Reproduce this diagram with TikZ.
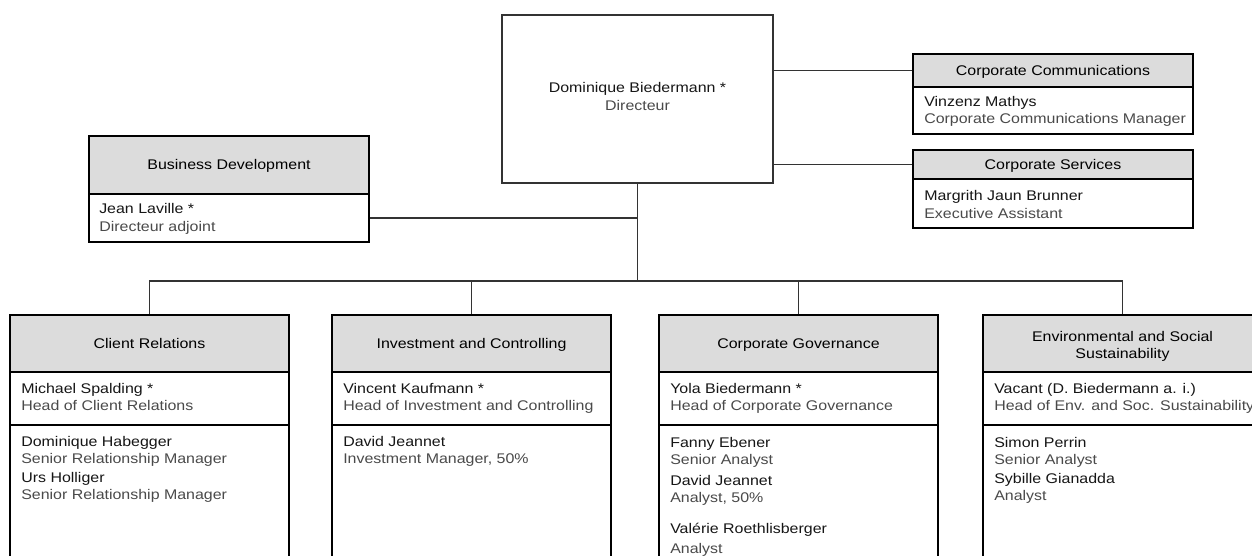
\documentclass[tikz,border=0pt]{standalone}
\usepackage{fontspec}
\setmainfont{Liberation Sans}[FakeStretch=1.14]
\usetikzlibrary{fit}
\definecolor{hdrgray}{HTML}{DCDCDC}
\definecolor{namecol}{HTML}{161616}
\definecolor{titlecol}{HTML}{4A4A4A}
\definecolor{linecol}{HTML}{333333}
\tikzset{
  box/.style={draw=black, line width=1.5pt, inner sep=0pt},
  hdr/.style={box, fill=hdrgray},
  dirbox/.style={draw=linecol, line width=1.1pt, inner sep=0pt},
  conn/.style={draw=linecol, line width=1pt},
  txt/.style={inner sep=0pt, font=\fontsize{10.5pt}{12.5pt}\selectfont},
  nm/.style={txt, text=namecol, anchor=base west},
  ttl/.style={txt, text=titlecol, anchor=base west},
  htxt/.style={txt, text=black, anchor=base},
}
\begin{document}
\begin{tikzpicture}[x=0.75pt,y=-0.75pt]
\useasboundingbox (0,0) rectangle (1252,556);
\clip (0,0) rectangle (1252,556);
\fill[white] (0,0) rectangle (1252,556);

% director
\node[dirbox, fit={(502,15) (773,183)}] (dir) {};
\node[htxt, text=namecol] (dir1) at (637.5,93) {Dominique Biedermann *};
\node[htxt, text=titlecol] (dir2) at (637.5,111) {Directeur};

% business development
\node[hdr, fit={(89,136) (369,194)}] (bdh) {};
\node[box, fit={(89,194) (369,242)}] (bdb) {};
\node[htxt] (bdt) at (229,170) {Business Development};
\node[nm] (bd1) at (99,214) {Jean Laville *};
\node[ttl] (bd2) at (99,231) {Directeur adjoint};

% corporate communications
\node[hdr, fit={(913,54) (1193,87)}] (cch) {};
\node[box, fit={(913,87) (1193,134)}] (ccb) {};
\node[htxt] (cct) at (1053,75.5) {Corporate Communications};
\node[nm] (cc1) at (924,106.5) {Vinzenz Mathys};
\node[ttl] (cc2) at (924,124) {Corporate Communications Manager};

% corporate services
\node[hdr, fit={(913,150) (1193,179)}] (csh) {};
\node[box, fit={(913,179) (1193,228)}] (csb) {};
\node[htxt] (cst) at (1053,169.5) {Corporate Services};
\node[nm] (cs1) at (924,200) {Margrith Jaun Brunner};
\node[ttl] (cs2) at (924,218) {Executive Assistant};

% client relations
\node[hdr, fit={(10,315) (289,372)}] (crh) {};
\node[box, fit={(10,372) (289,425)}] (crm) {};
\node[box, fit={(10,425) (289,620)}] (crs) {};
\node[htxt] (crt) at (149.5,348.5) {Client Relations};
\node[nm] (cr1) at (21,393) {Michael Spalding *};
\node[ttl] (cr2) at (21,410) {Head of Client Relations};
\node[nm] (cr3) at (21,446) {Dominique Habegger};
\node[ttl] (cr4) at (21,463) {Senior Relationship Manager};
\node[nm] (cr5) at (21,482) {Urs Holliger};
\node[ttl] (cr6) at (21,499) {Senior Relationship Manager};

% investment and controlling
\node[hdr, fit={(332,315) (611,372)}] (ich) {};
\node[box, fit={(332,372) (611,425)}] (icm) {};
\node[box, fit={(332,425) (611,620)}] (ics) {};
\node[htxt] (ict) at (471.5,348.5) {Investment and Controlling};
\node[nm] (ic1) at (343,393) {Vincent Kaufmann *};
\node[ttl] (ic2) at (343,410) {Head of Investment and Controlling};
\node[nm] (ic3) at (343,446) {David Jeannet};
\node[ttl] (ic4) at (343,463) {Investment Manager, 50\%};

% corporate governance
\node[hdr, fit={(659,315) (938,372)}] (cgh) {};
\node[box, fit={(659,372) (938,425)}] (cgm) {};
\node[box, fit={(659,425) (938,620)}] (cgs) {};
\node[htxt] (cgt) at (798.5,348.5) {Corporate Governance};
\node[nm] (cg1) at (670,393) {Yola Biedermann *};
\node[ttl] (cg2) at (670,410) {Head of Corporate Governance};
\node[nm] (cg3) at (670,447) {Fanny Ebener};
\node[ttl] (cg4) at (670,464) {Senior Analyst};
\node[nm] (cg5) at (670,485) {David Jeannet};
\node[ttl] (cg6) at (670,502) {Analyst, 50\%};
\node[nm] (cg7) at (670,533) {Valérie Roethlisberger};
\node[ttl] (cg8) at (670,553) {Analyst};

% environmental and social sustainability
\node[hdr, fit={(983,315) (1262,372)}] (esh) {};
\node[box, fit={(983,372) (1262,425)}] (esm) {};
\node[box, fit={(983,425) (1262,620)}] (ess) {};
\node[htxt] (est1) at (1122.5,341) {Environmental and Social};
\node[htxt] (est2) at (1122.5,358) {Sustainability};
\node[nm] (es1) at (994,393) {Vacant (D. Biedermann a. i.)};
\node[ttl] (es2) at (994,410) {Head of Env. and Soc. Sustainability};
\node[nm] (es3) at (994,447) {Simon Perrin};
\node[ttl] (es4) at (994,464) {Senior Analyst};
\node[nm] (es5) at (994,483) {Sybille Gianadda};
\node[ttl] (es6) at (994,500) {Analyst};

% connectors
\coordinate (bus) at (637.5,281);
\draw[conn] (dir.south) -- (bus);
\draw[conn] (crh.north) |- (bus) -| (esh.north);
\draw[conn] (ich.north) -- (ich.north |- bus);
\draw[conn] (cgh.north) -- (cgh.north |- bus);
\draw[conn] (bdb.east) -- (bdb.east -| dir.south);
\draw[conn] (cch.west) -- (cch.west -| dir.east);
\draw[conn] (csh.west) -- (csh.west -| dir.east);
\end{tikzpicture}
\end{document}
